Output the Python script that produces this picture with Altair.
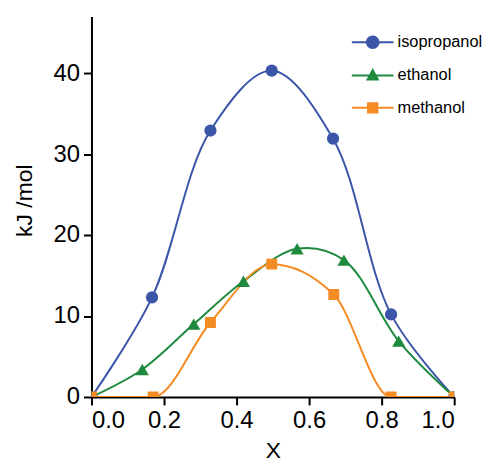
import altair as alt
import pandas as pd

series_names = ["isopropanol", "ethanol", "methanol"]
colors = ["#3b55a8", "#1e8a3e", "#f58b23"]

iso_x = [0.0, 0.167, 0.328, 0.497, 0.666, 0.826, 1.0]
iso_y = [0.0, 12.3, 32.9, 40.3, 31.9, 10.2, 0.0]
eth_x = [0.0, 0.14, 0.282, 0.419, 0.567, 0.696, 0.847, 1.0]
eth_y = [0.0, 3.4, 9.0, 14.3, 18.3, 16.9, 6.9, 0.0]
met_x = [0.0, 0.17, 0.328, 0.497, 0.668, 0.826, 1.0]
met_y = [0.0, 0.0, 9.2, 16.4, 12.65, 0.0, 0.0]

x_ticks = [0.0, 0.2, 0.4, 0.6, 0.8, 1.0]
y_ticks = [0, 10, 20, 30, 40]

rows = []
for name, xs, ys in [("isopropanol", iso_x, iso_y), ("ethanol", eth_x, eth_y), ("methanol", met_x, met_y)]:
    for a, b in zip(xs, ys):
        rows.append({"series": name, "x": a, "y": b})
df = pd.DataFrame(rows)

FONT = "Liberation Sans"

x_enc = alt.X("x:Q", scale=alt.Scale(domain=[0, 1], nice=False, zero=False),
              axis=alt.Axis(values=x_ticks, format=".1f", title="X",
                            titleX=182.5, titleY=61, titleBaseline="alphabetic"))
y_enc = alt.Y("y:Q", scale=alt.Scale(domain=[0, 47], nice=False),
              axis=alt.Axis(values=y_ticks, title="kJ /mol",
                            titleX=-60, titleY=185, titleAngle=270,
                            titleBaseline="alphabetic", titleAlign="center"))

# legend glyphs: a short line with the marker on it (unit coords, scaled by sqrt(size)/2)
line_p = "M-2.1,-0.1H2.1V0.1H-2.1Z"
circle_p = line_p + "M-0.68,0A0.68,0.68,0,1,1,0.68,0A0.68,0.68,0,1,1,-0.68,0Z"
tri_p = line_p + "M0,-0.76L0.68,0.5L-0.68,0.5Z"
sq_p = line_p + "M-0.57,-0.57H0.57V0.57H-0.57Z"

legend = alt.Legend(
    title=None, orient="none", legendX=272, legendY=15,
    symbolSize=400, labelFontSize=16.5, labelFont=FONT, labelColor="black",
    labelOffset=14, rowPadding=12.5, padding=0, symbolOpacity=1,
)

base = alt.Chart(df)

interp = {"isopropanol": "catmull-rom", "ethanol": "catmull-rom", "methanol": "monotone"}
marker_shapes = {"isopropanol": ("circle", 150), "ethanol": ("triangle-up", 175), "methanol": ("square", 120)}

layers = []
for i, name in enumerate(series_names):
    layers.append(
        base.transform_filter(alt.datum.series == name).mark_line(
            interpolate=interp[name], strokeWidth=2, clip=True, color=colors[i]
        ).encode(x=x_enc, y=y_enc)
    )
for i, name in enumerate(series_names):
    shp, sz = marker_shapes[name]
    layers.append(
        base.transform_filter(alt.datum.series == name).mark_point(
            filled=True, opacity=1, clip=True, shape=shp, size=sz, color=colors[i]
        ).encode(x=x_enc, y=y_enc)
    )

legend_layer = base.transform_filter("false").mark_point(filled=True, opacity=1, size=400).encode(
    x=x_enc, y=y_enc,
    color=alt.Color("series:N", scale=alt.Scale(domain=series_names, range=colors), legend=legend),
    shape=alt.Shape("series:N", scale=alt.Scale(domain=series_names, range=[circle_p, tri_p, sq_p]),
                    legend=legend),
)
layers.append(legend_layer)

chart = alt.layer(*layers).properties(
    width=365, height=383,
    autosize=alt.AutoSizeParams(type="none"),
    padding={"left": 84, "top": 7, "right": 30, "bottom": 66},
).configure_view(stroke=None).configure_axis(
    grid=False, domainColor="black", domainWidth=2, tickColor="black", tickWidth=2,
    tickSize=8, labelFontSize=24, labelFont=FONT, labelColor="black", labelPadding=4,
    titleFontSize=23, titleFont=FONT, titleColor="black", titleFontWeight="normal",
)

chart.save("out.html", embed_options={"renderer": "svg", "actions": False})
